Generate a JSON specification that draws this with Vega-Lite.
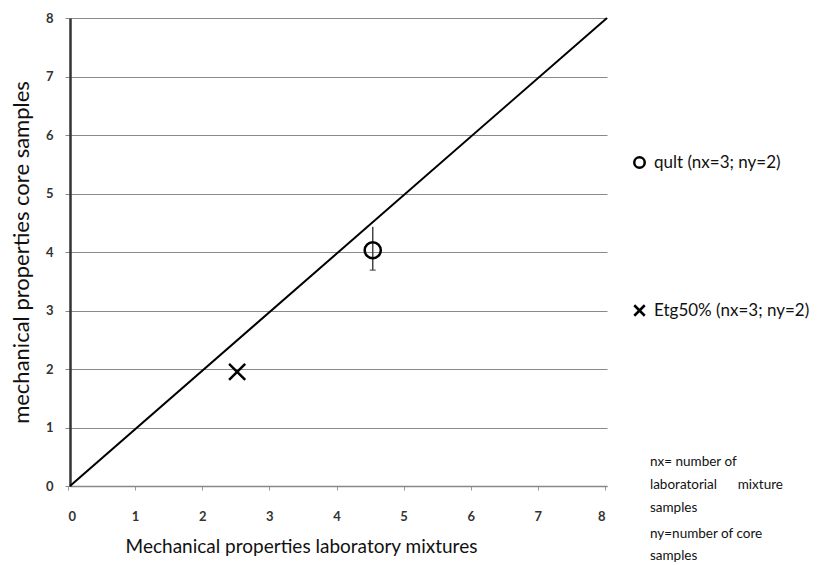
{
  "$schema": "https://vega.github.io/schema/vega-lite/v6.json",
  "width": 537,
  "height": 468,
  "autosize": {"type": "none"},
  "padding": {"left": 70, "top": 18, "right": 214, "bottom": 79},
  "background": "white",
  "config": {
    "view": {"stroke": null},
    "font": "Lato",
    "axis": {"labelFont": "Lato", "titleFont": "Lato"}
  },
  "datasets": {
    "diag": [{"x": 0, "y": 0}, {"x": 8, "y": 8}],
    "pts": [
      {"series": "qult (nx=3; ny=2)", "x": 4.51, "y": 4.03, "lo": 3.69, "hi": 4.43},
      {"series": "Etg50% (nx=3; ny=2)", "x": 2.49, "y": 1.95, "lo": 1.95, "hi": 1.95}
    ]
  },
  "layer": [
    {
      "data": {"name": "diag"},
      "mark": {"type": "line", "color": "black", "strokeWidth": 2, "clip": false},
      "encoding": {
        "x": {
          "field": "x", "type": "quantitative",
          "scale": {"domain": [0, 8], "nice": false},
          "axis": {
            "title": "Mechanical properties laboratory mixtures",
            "titleFontSize": 19, "titleFontWeight": "normal", "titleColor": "#111",
            "titlePadding": 14,
            "titleX": 231, "titleAlign": "center",
            "values": [0, 1, 2, 3, 4, 5, 6, 7, 8],
            "format": "d",
            "grid": false,
            "domainColor": "#888", "domainWidth": 1.5,
            "tickColor": "#999", "tickSize": 4, "tickOffset": -2,
            "labelFontSize": 13, "labelFontWeight": "bold", "labelColor": "#333",
            "labelPadding": 20
          }
        },
        "y": {
          "field": "y", "type": "quantitative",
          "scale": {"domain": [0, 8], "nice": false},
          "axis": {
            "title": "mechanical properties  core samples",
            "titleFontSize": 22, "titleFontWeight": "normal", "titleColor": "#111",
            "titlePadding": 12,
            "values": [0, 1, 2, 3, 4, 5, 6, 7, 8],
            "format": "d",
            "grid": true, "gridColor": "#8a8a8a", "gridWidth": 1.2,
            "domainColor": "#333", "domainWidth": 2.5,
            "tickColor": "#888", "tickSize": 5,
            "labelFontSize": 13, "labelFontWeight": "bold", "labelColor": "#333",
            "labelPadding": 12
          }
        }
      }
    },
    {
      "data": {"name": "pts"},
      "mark": {"type": "rule", "color": "#444", "strokeWidth": 1.5},
      "encoding": {
        "x": {"field": "x", "type": "quantitative"},
        "y": {"field": "lo", "type": "quantitative"},
        "y2": {"field": "hi"}
      }
    },
    {
      "data": {"name": "pts"},
      "mark": {"type": "tick", "orient": "horizontal", "color": "#444", "size": 6, "thickness": 1.5},
      "transform": [{"filter": "datum.hi > datum.lo"}],
      "encoding": {
        "x": {"field": "x", "type": "quantitative"},
        "y": {"field": "lo", "type": "quantitative"}
      }
    },
    {
      "data": {"name": "pts"},
      "mark": {"type": "point", "filled": false, "color": "black", "strokeWidth": 2.5, "opacity": 1, "size": 260},
      "encoding": {
        "x": {"field": "x", "type": "quantitative"},
        "y": {"field": "y", "type": "quantitative"},
        "shape": {
          "field": "series", "type": "nominal",
          "scale": {
            "domain": ["qult (nx=3; ny=2)", "Etg50% (nx=3; ny=2)"],
            "range": ["circle", "M-1,-1L1,1M1,-1L-1,1"]
          },
          "legend": {
            "title": null,
            "orient": "none",
            "legendX": 561,
            "legendY": 136,
            "rowPadding": 127,
            "labelFontSize": 17,
            "labelColor": "#111",
            "labelLimit": 300,
            "labelOffset": 6,
            "symbolSize": 110,
            "symbolStrokeWidth": 2.5,
            "symbolStrokeColor": "black",
            "symbolFillColor": "transparent"
          }
        }
      }
    },
    {
      "data": {"values": [{"note": "nx= number of|laboratorial\u00a0\u00a0\u00a0\u00a0\u00a0\u00a0mixture|samples"}]},
      "mark": {"type": "text", "align": "left", "baseline": "top", "fontSize": 13.5, "lineHeight": 23, "color": "#111", "clip": false},
      "encoding": {
        "x": {"datum": 8.64, "type": "quantitative"},
        "y": {"datum": 0.53, "type": "quantitative"},
        "text": {"field": "note", "type": "nominal"}
      },
      "transform": [{"calculate": "split(datum.note, '|')", "as": "note"}]
    },
    {
      "data": {"values": [{"note": "ny=number of core|samples"}]},
      "mark": {"type": "text", "align": "left", "baseline": "top", "fontSize": 13.5, "lineHeight": 22, "color": "#111", "clip": false},
      "encoding": {
        "x": {"datum": 8.64, "type": "quantitative"},
        "y": {"datum": -0.7, "type": "quantitative"},
        "text": {"field": "note", "type": "nominal"}
      },
      "transform": [{"calculate": "split(datum.note, '|')", "as": "note"}]
    }
  ]
}
